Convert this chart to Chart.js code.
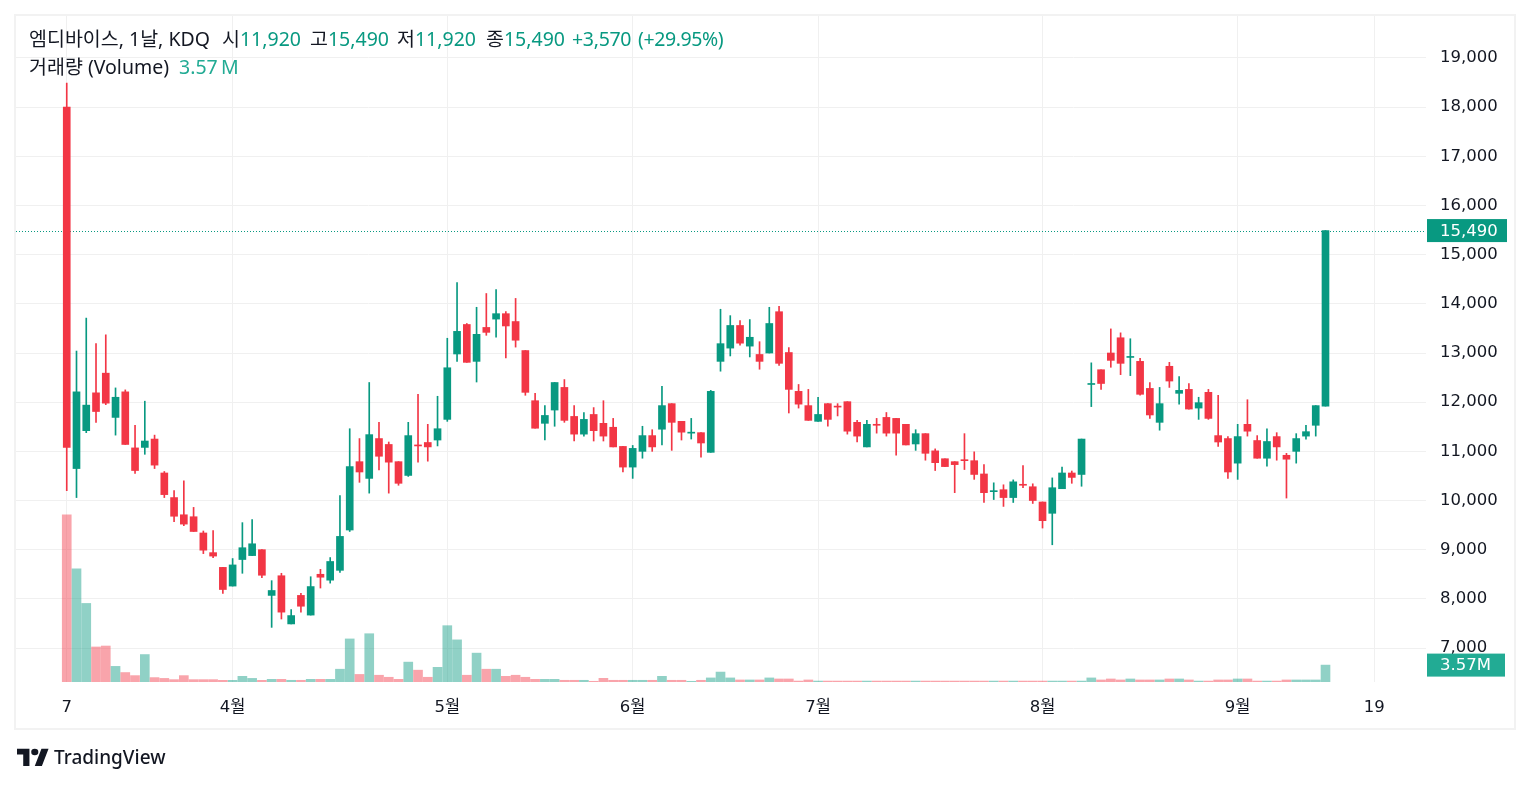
<!DOCTYPE html>
<html>
<head>
<meta charset="utf-8">
<script src="https://cdn.jsdelivr.net/npm/chart.js@4.4.1/dist/chart.umd.min.js"></script>
<style>
html,body{margin:0;padding:0;background:#fff;}
#wrap{position:relative;width:1530px;height:786px;overflow:hidden;}
#c{position:absolute;left:0;top:0;}
.frame{position:absolute;left:14px;top:14px;width:1502px;height:716px;box-sizing:border-box;border:2px solid #f2f2f2;}
.t{position:absolute;font-family:'Noto Sans','Noto Sans CJK KR',sans-serif;font-size:19.5px;line-height:24px;color:#131722;white-space:pre;}
.g{color:#089981;}
.v{color:#22ab94;}
.logo{position:absolute;left:17px;top:748px;}
.brand{position:absolute;left:54px;top:744px;font-family:'Noto Sans',sans-serif;font-size:19px;color:#131722;font-weight:500;}
</style>
</head>
<body>
<div id="wrap">
<div class="frame"></div>
<canvas id="c" width="1530" height="786"></canvas>
<div class="t" style="left:29px;top:27px">엠디바이스, 1날, KDQ</div>
<div class="t" style="left:222px;top:27px">시<span class="g">11,920</span></div>
<div class="t" style="left:310px;top:27px">고<span class="g">15,490</span></div>
<div class="t" style="left:397px;top:27px">저<span class="g">11,920</span></div>
<div class="t" style="left:486px;top:27px">종<span class="g">15,490</span></div>
<div class="t g" style="left:572px;top:27px;letter-spacing:-0.3px">+3,570</div>
<div class="t g" style="left:638px;top:27px;letter-spacing:-0.4px">(+29.95%)</div>
<div class="t" style="left:29px;top:55px">거래량 (Volume)</div>
<div class="t v" style="left:179px;top:55px">3.57&#8201;M</div>
<svg class="logo" width="32" height="18" viewBox="0 0 36 22" preserveAspectRatio="none">
<path fill="#131722" d="M14 22H7V8H0V1h14v21zM28 22h-8l7.5-21h8L28 22z"/>
<circle fill="#131722" cx="20" cy="5" r="4"/>
</svg>
<div class="brand">TradingView</div>
</div>
<script>
// candles, one per trading day from 3/7 (index 0) to 9/12 (index 129)
const opens = [18000,10650,11420,12190,12590,11690,12210,11070,11080,11250,10560,10060,9710,9670,9340,8940,8640,
8260,8800,8880,9000,8070,8470,7490,8070,7670,8500,8380,8580,9400,10790,10450,11260,11140,10790,10510,11130,11180,11230,
11650,12980,13580,12830,13520,13690,13800,13640,13050,12030,11570,11840,12300,11710,11350,11750,11570,11490,11100,
10680,11000,11320,11450,11970,11610,11370,11380,10980,12830,13100,13560,13140,12970,13000,13840,13010,12220,11930,
11610,11970,11910,12010,11590,11090,11550,11690,11670,11550,11150,11360,11010,10850,10790,10830,10810,10540,10180,10220,10060,10330,10280,
9970,9740,10240,10560,10530,12360,12660,13000,13310,12910,12830,12280,11590,12730,12180,12260,11880,12200,11320,11260,
10760,11550,11220,10860,11300,10920,11000,11310,11530,11920];
const highs = [18490,13040,13710,13190,13370,12290,12250,11530,12020,11330,10590,10200,10400,9860,9380,9390,8640,
8820,9550,9610,9000,8370,8520,7780,8110,8450,8600,8840,10100,11460,11260,12400,11590,11190,10790,11590,12160,11550,12120,
13300,14430,13600,13930,14210,14290,13840,14110,13050,12180,11930,12400,12460,11930,11790,11890,12030,11670,11100,
11120,11510,11440,12320,11970,11610,11670,11380,12240,13890,13760,13660,13680,13230,13930,13950,13110,12360,12260,
12100,11970,11970,12010,11630,11630,11670,11790,11670,11550,11440,11360,11050,10850,10790,11360,10990,10730,10360,10320,10420,10710,10340,
9970,10460,10680,10600,11250,12800,12660,13490,13410,13290,12890,12400,12300,12810,12520,12380,12100,12260,12140,11300,
11550,12050,11320,11460,11380,10960,11360,11530,11930,15490];
const lows = [10200,10060,11380,11590,11950,11330,11140,10550,10940,10650,10060,9570,9490,9370,8920,8840,8110,
8260,8520,8880,8430,7420,7590,7490,7730,7670,8220,8320,8540,9370,10370,10150,10620,10150,10310,10490,10780,10800,11110,
11610,12830,12810,12410,13360,13320,12900,13120,12140,11470,11230,11510,11590,11210,11310,11210,11210,11090,10580,
10450,10860,11000,11130,11020,11230,11250,10880,10980,12630,12940,13160,12920,12670,13000,12750,11780,11880,11630,
11610,11510,11720,11350,11190,11090,11370,11310,10920,11130,11020,10820,10610,10690,10160,10630,10430,9960,10020,9880,9960,10260,9940,
9440,9100,10240,10350,10290,11910,12260,12710,12560,12540,12140,11670,11430,12300,11960,11860,11650,11650,11100,10450,
10430,11310,10860,10700,10820,10050,10760,11250,11310,11920];
const closes = [11080,12210,11940,11810,11980,12100,11140,10610,11210,10720,10120,9680,9520,9370,8990,8870,8190,
8690,9040,9120,8480,8170,7730,7660,7850,8250,8440,8760,9270,10690,10580,11340,10900,10780,10350,11320,11110,11090,11460,
12700,13440,12810,13380,13420,13800,13550,13260,12200,11470,11730,12400,11630,11350,11650,11420,11310,11090,10680,
11060,11320,11090,11930,11590,11390,11380,11170,12220,13190,13560,13200,13320,12830,13600,12790,12260,11960,11630,
11750,11650,11900,11410,11310,11550,11530,11370,11370,11130,11360,10960,10770,10690,10730,10810,10530,10160,10200,10060,10380,10310,10000,
9590,10260,10560,10470,11250,12370,12380,12850,12790,12920,12160,11740,11970,12430,12240,11860,11990,11670,11190,10580,
11300,11410,10860,11200,11090,10840,11260,11400,11930,15490];
// volume in millions of shares
const volumes = [35.3,23.9,16.6,7.4,7.6,3.3,2.0,1.35,5.8,0.93,0.76,0.5,1.35,0.5,0.5,0.5,0.35,
0.35,1.2,0.76,0.35,0.57,0.57,0.36,0.36,0.57,0.57,0.57,2.7,9.1,1.6,10.2,1.43,1.0,0.57,4.2,2.5,1.0,3.1,
11.9,8.9,1.43,6.1,2.7,2.7,1.2,1.43,1.0,0.57,0.57,0.57,0.36,0.36,0.36,0.15,0.78,0.36,0.36,
0.36,0.36,0.36,1.2,0.36,0.36,0.15,0.36,0.86,2.1,0.86,0.43,0.43,0.43,0.86,0.64,0.64,0.2,0.43,
0.2,0.2,0.2,0.2,0.2,0.2,0.2,0.2,0.2,0.2,0.2,0.2,0.2,0.2,0.2,0.2,0.2,0.2,0.2,0.2,0.2,0.2,0.2,
0.2,0.2,0.2,0.2,0.2,0.86,0.43,0.64,0.43,0.64,0.43,0.43,0.43,0.64,0.64,0.43,0.2,0.2,0.43,0.43,
0.64,0.64,0.2,0.2,0.2,0.43,0.43,0.43,0.43,3.57];

const tickIdx = [0,17,39,58,77,100,120,134];
const tickLabels = ['7','4월','5월','6월','7월','8월','9월','19'];
const priceTicks = [7000,8000,9000,10000,11000,12000,13000,14000,15000,16000,17000,18000,19000];
const lastClose = 15490;
const lastVolume = 3.57;

const UP = '#089981', DOWN = '#F23645';
const isUp = closes.map((c,i)=>c>=opens[i]);
const candleCol = isUp.map(u=>u?UP:DOWN);
const volCol = isUp.map(u=>u?'rgba(8,153,129,0.45)':'rgba(242,54,69,0.45)');

const wickData = highs.map((h,i)=>({x:i,y:[lows[i],h]}));
const bodyData = opens.map((o,i)=>({x:i,y:[o,closes[i]]}));
const volData = volumes.map((v,i)=>({x:i,y:v}));

const axisFont = {family:"'DejaVu Sans','Noto Sans CJK KR',sans-serif", size:16.5};

const lastPricePlugin = {
  id:'lastPrice',
  beforeDatasetsDraw(chart){
    const {ctx, chartArea:a, scales} = chart;
    const y = Math.round(scales.y.getPixelForValue(lastClose))+0.5;
    ctx.save();
    ctx.strokeStyle = UP;
    ctx.lineWidth = 1;
    ctx.setLineDash([1,2]);
    ctx.beginPath(); ctx.moveTo(a.left,y); ctx.lineTo(a.right,y); ctx.stroke();
    ctx.restore();
  },
  afterDraw(chart){
    const {ctx, chartArea:a, scales} = chart;
    const drawBox = (y, w, col, txt) => {
      ctx.fillStyle = col;
      ctx.fillRect(a.right+1, y-11.5, w, 23);
      ctx.fillStyle = '#ffffff';
      ctx.font = "16.5px 'DejaVu Sans',sans-serif";
      ctx.textBaseline = 'middle';
      ctx.textAlign = 'left';
      ctx.fillText(txt, a.right+14, y+1);
    };
    ctx.save();
    drawBox(scales.y.getPixelForValue(lastClose), 80, UP, lastClose.toLocaleString('en-US'));
    drawBox(scales.v.getPixelForValue(lastVolume), 78, '#22ab94', lastVolume.toFixed(2)+'M');
    ctx.restore();
  }
};

new Chart(document.getElementById('c'), {
  type:'bar',
  data:{
    datasets:[
      {data:bodyData, backgroundColor:candleCol, barThickness:7, minBarLength:1, grouped:false, order:0, yAxisID:'y'},
      {data:wickData, backgroundColor:candleCol, barThickness:1, grouped:false, order:1, yAxisID:'y'},
      {data:volData, backgroundColor:volCol, barThickness:9, grouped:false, order:2, yAxisID:'v'}
    ]
  },
  options:{
    responsive:false,
    animation:false,
    devicePixelRatio:1,
    layout:{padding:{left:16,right:15,top:16,bottom:57}},
    plugins:{legend:{display:false}, tooltip:{enabled:false}},
    scales:{
      x:{
        type:'linear', min:-5.2, max:139.3, offset:false,
        grid:{color:'#f0f0f0', offset:false, drawTicks:false},
        border:{display:false},
        afterBuildTicks:s=>{ s.ticks = tickIdx.map(v=>({value:v})); },
        afterFit:s=>{ s.height = 47; s.paddingLeft = 0; s.paddingRight = 0; },
        ticks:{autoSkip:false, maxRotation:0, padding:16, color:'#131722', font:axisFont,
          callback:(v,i)=>tickLabels[i]}
      },
      y:{
        type:'linear', position:'right', min:6309, max:19854,
        grid:{color:'#f0f0f0', drawTicks:false},
        border:{display:false},
        afterBuildTicks:s=>{ s.ticks = priceTicks.map(v=>({value:v})); },
        afterFit:s=>{ s.width = 89; s.paddingTop = 0; s.paddingBottom = 0; },
        ticks:{padding:14, color:'#131722', font:axisFont,
          callback:v=>v.toLocaleString('en-US')}
      },
      v:{
        type:'linear', display:false, min:0, max:140.7
      }
    }
  },
  plugins:[lastPricePlugin]
});
</script>
</body>
</html>
